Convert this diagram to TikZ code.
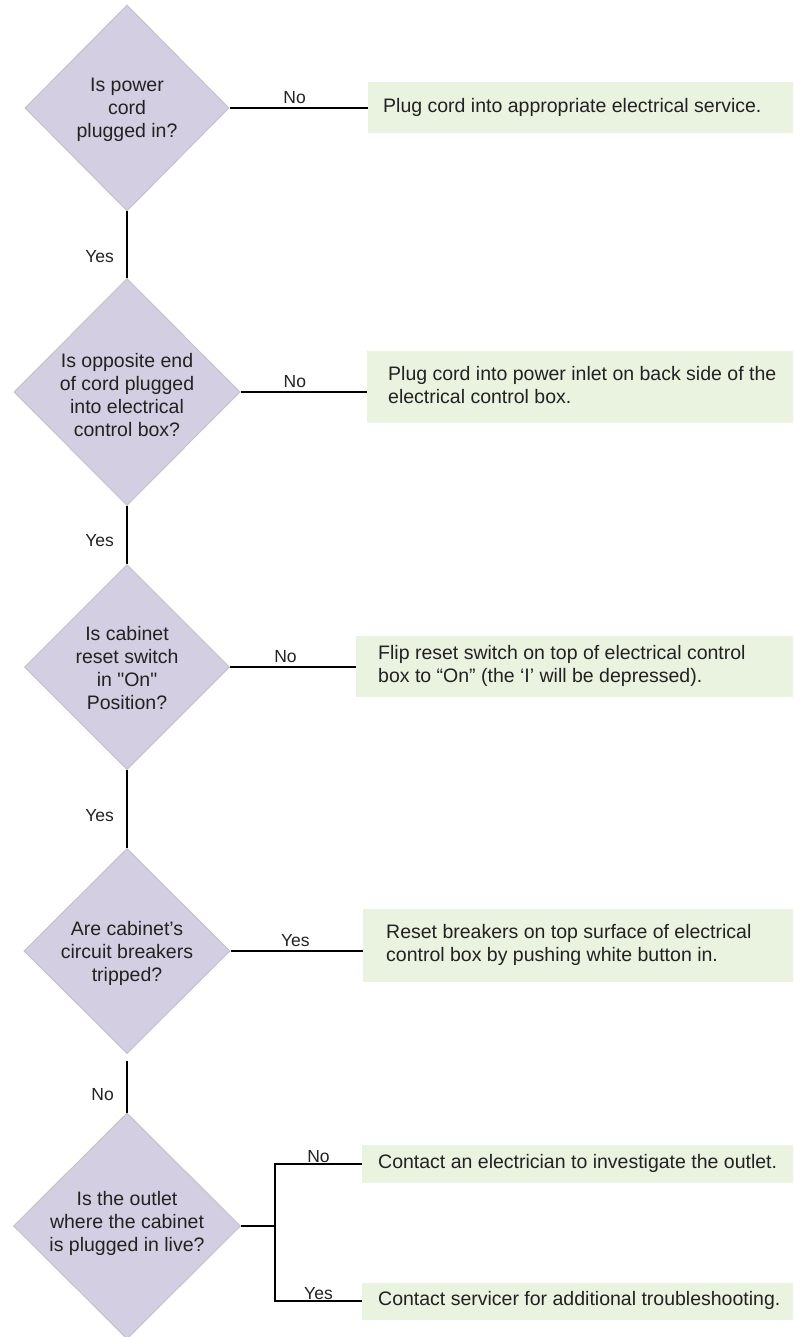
\documentclass[tikz,border=0pt]{standalone}
\usepackage{fontspec}
\setmainfont{Liberation Sans}
\newfontfamily\rawsans{Liberation Sans}
\usetikzlibrary{shapes.geometric}
\definecolor{diafill}{HTML}{D3CEE1}
\definecolor{diaedge}{HTML}{C4C2CA}
\definecolor{boxfill}{HTML}{EAF2E0}
\definecolor{txt}{HTML}{222222}
\newcommand\acttext[3]{\makebox[#1][l]{\hspace*{#2}\begin{tabular}{@{}l@{}}#3\end{tabular}}}
\begin{document}
\begin{tikzpicture}[x=1pt,y=-1pt,
  dia/.style={diamond, aspect=1, fill=diafill, draw=diaedge, line width=1pt, inner sep=0pt},
  dtext/.style={align=center, font=\fontsize{19.5}{23}\selectfont, text=txt, inner sep=0pt},
  actbox/.style={fill=boxfill, anchor=west, inner sep=0pt,
    font=\fontsize{19.5}{23}\selectfont, text=txt},
  conn/.style={line width=1.6pt, black},
  lbl/.style={font=\fontsize{17.5}{20}\selectfont, text=txt}]
\useasboundingbox (0,0) rectangle (793,1337);
\clip (0,0) rectangle (793,1337);

% decisions
\node[dia, minimum width=204pt, minimum height=206pt] (d1) at (127,108) {};
\node[dtext] (t1) at (127,110) {Is power\\cord\\plugged in?};
\node[dia, minimum width=226pt, minimum height=227pt] (d2) at (127,392) {};
\node[dtext] (t2) at (127,395) {Is opposite end\\of cord plugged\\into electrical\\control box?};
\node[dia, minimum width=205pt, minimum height=205pt] (d3) at (127,667) {};
\node[dtext] (t3) at (127,668) {Is cabinet\\reset switch\\in {\rawsans"On"}\\Position?};
\node[dia, minimum width=206pt, minimum height=205pt] (d4) at (127,951) {};
\node[dtext] (t4) at (127,953) {Are cabinet’s\\circuit breakers\\tripped?};
\node[dia, minimum width=227pt, minimum height=226pt] (d5) at (127,1226) {};
\node[dtext] (t5) at (127,1223) {Is the outlet\\where the cabinet\\is plugged in live?};

% actions
\node[actbox, minimum height=51pt] (b1) at (368,107.5)
  {\acttext{425pt}{15pt}{Plug cord into appropriate electrical service.}};
\node[actbox, minimum height=72pt] (b2) at (367,387)
  {\acttext{426pt}{21pt}{Plug cord into power inlet on back side of the\\electrical control box.}};
\node[actbox, minimum height=61pt] (b3) at (356,666.5)
  {\acttext{437pt}{22pt}{Flip reset switch on top of electrical control\\box to “On” (the ‘I’ will be depressed).}};
\node[actbox, minimum height=73pt] (b4) at (363,945.5)
  {\acttext{430pt}{23pt}{Reset breakers on top surface of electrical\\control box by pushing white button in.}};
\node[actbox, minimum height=38pt] (b5) at (362,1164)
  {\acttext{431pt}{16pt}{Contact an electrician to investigate the outlet.}};
\node[actbox, minimum height=37pt] (b6) at (362,1301)
  {\acttext{431pt}{16pt}{Contact servicer for additional troubleshooting.}};

% horizontal connectors
\draw[conn] (d1.east) -- (d1.east -| b1.west) node[lbl, pos=0.47, above] {No};
\draw[conn] (d2.east) -- (d2.east -| b2.west) node[lbl, pos=0.43, above] {No};
\draw[conn] (d3.east) -- (d3.east -| b3.west) node[lbl, pos=0.44, above] {No};
\draw[conn] (d4.east) -- (d4.east -| b4.west) node[lbl, pos=0.49, above] {Yes};

% vertical connectors
\draw[conn] (d1.south) -- (d2.north) node[lbl, pos=0.68, left=9pt] {Yes};
\draw[conn] (d2.south) -- (d3.north) node[lbl, pos=0.6, left=9pt] {Yes};
\draw[conn] (d3.south) -- (d4.north) node[lbl, pos=0.58, left=9pt] {Yes};
\draw[conn, shorten <=7pt] (d4.south) -- (d5.north) node[lbl, pos=0.7, left=9pt] {No};

% split at last decision
\draw[conn] (d5.east) -- ++(34,0) coordinate (split);
\draw[conn] (split) |- (b5.west) node[lbl, pos=0.75, above, inner sep=1pt] {No};
\draw[conn] (split) |- (b6.west) node[lbl, pos=0.75, above, inner sep=1pt] {Yes};
\end{tikzpicture}
\end{document}
